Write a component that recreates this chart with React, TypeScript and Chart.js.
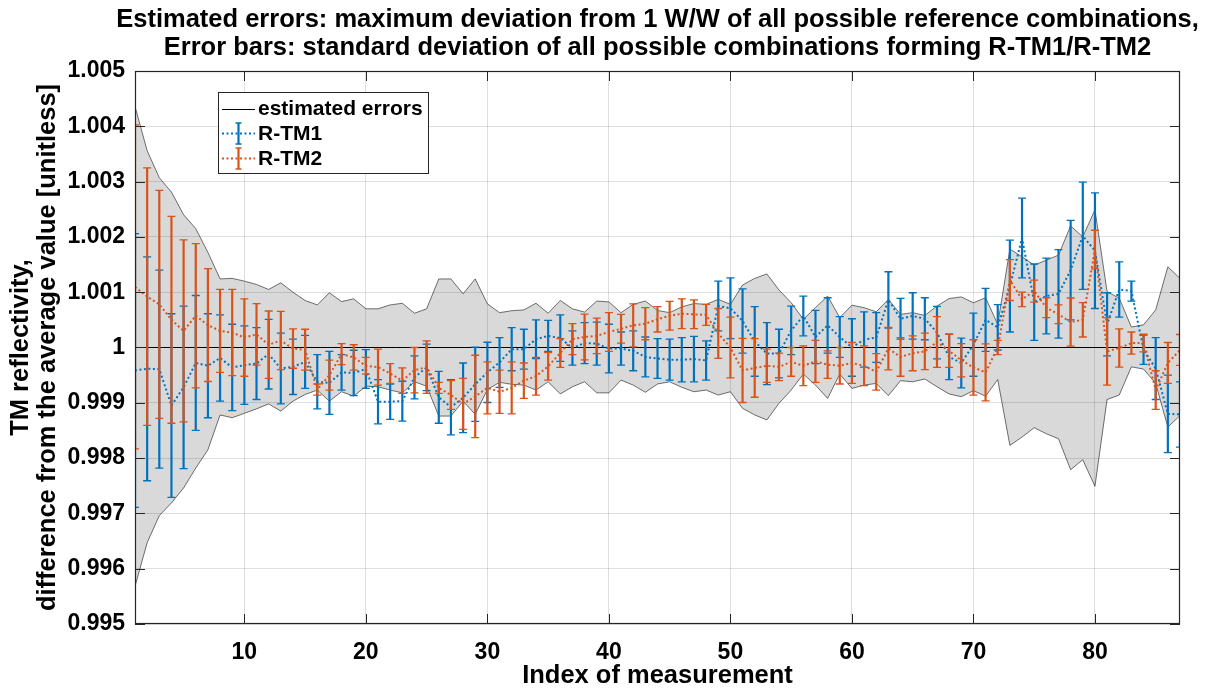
import { useEffect, useRef } from "react";
import { Chart, registerables } from "chart.js";

Chart.register(...registerables);

const FONT = "'Liberation Sans', Arial, Helvetica, sans-serif";

// Measurement indices 1..87
const measurementIndex: number[] = Array.from({ length: 87 }, (_, i) => i + 1);

// All deviations below are given in units of 1e-3 (relative to 1 W/W)
// R-TM1: mean deviation and standard deviation
const tm1Dev = [
  -0.415, -0.385, -0.39, -1.05, -0.72, -0.28, -0.33, -0.19, -0.36, -0.32,
  -0.29, -0.12, -0.38, -0.35, -0.26, -0.62, -0.64, -0.45, -0.46, -0.39,
  -0.98, -0.98, -0.97, -0.54, -0.36, -0.9, -1.08, -0.91, -0.665, -0.45,
  -0.27, -0.03, -0.03, 0.15, 0.21, 0.17, -0.01, 0.08, 0.07, -0.02,
  -0.02, -0.06, -0.17, -0.2, -0.22, -0.22, -0.21, -0.235, 0.75, 0.71,
  0.48, 0.11, -0.11, -0.11, 0.31, 0.57, 0.19, 0.4, 0.19, 0.0,
  0.145, 0.18, 0.86, 0.52, 0.57, 0.52, 0.27, -0.17, -0.28, 0.05,
  0.5, 0.365, 1.11, 1.98, 0.82, 0.93, 0.97, 1.4, 2.02, 1.75,
  0.42, 1.05, 1.02, -0.04, -0.38, -1.2, -1.21,
];
const tm1Std = [
  2.475, 2.025, 1.79, 1.66, 1.47, 1.22, 0.94, 0.78, 0.78, 0.71,
  0.65, 0.63, 0.64, 0.5, 0.48, 0.49, 0.57, 0.32, 0.41, 0.35,
  0.4, 0.32, 0.36, 0.39, 0.42, 0.47, 0.5, 0.63, 0.67, 0.545,
  0.45, 0.39, 0.36, 0.35, 0.28, 0.42, 0.31, 0.37, 0.39, 0.44,
  0.3, 0.36, 0.36, 0.36, 0.37, 0.4, 0.41, 0.355, 0.45, 0.55,
  0.58, 0.63, 0.56, 0.44, 0.44, 0.36, 0.48, 0.5, 0.37, 0.52,
  0.5, 0.45, 0.51, 0.37, 0.42, 0.38, 0.475, 0.41, 0.45, 0.57,
  0.57, 0.41, 0.83, 0.72, 0.69, 0.685, 0.8, 0.9, 0.97, 1.045,
  0.57, 0.5, 0.18, 0.265, 0.56, 0.7, 0.59,
];

// R-TM2: mean deviation and standard deviation
const tm2Dev = [
  1.096, 0.92, 0.78, 0.5, 0.3, 0.575, 0.405, 0.3, 0.27, 0.18,
  0.236, 0.05, 0.127, -0.02, -0.04, -0.76, -0.5, -0.12, -0.18, -0.33,
  -0.355, -0.47, -0.6, -0.41, -0.355, -0.73, -0.86, -1.02, -0.885, -0.73,
  -0.8, -0.73, -0.6, -0.52, -0.34, -0.1, 0.15, 0.19, 0.21, 0.28,
  0.34, 0.4, 0.43, 0.51, 0.575, 0.61, 0.6, 0.59, 0.255, 0.0,
  -0.415, -0.37, -0.33, -0.35, -0.26, -0.33, -0.25, -0.31, -0.33, -0.28,
  -0.33, -0.44, -0.02, -0.17, -0.105, -0.07, 0.1, -0.06, -0.23, -0.36,
  -0.45, 0.0, 1.22, 0.87, 1.02, 0.72, 0.6, 0.46, 0.5, 1.77,
  -0.07, -0.01, 0.08, 0.08, -0.77, -0.28, -0.045,
];
const tm2Std = [
  2.93, 2.33, 2.06, 1.87, 1.645, 1.305, 1.02, 0.75, 0.78, 0.7,
  0.556, 0.61, 0.526, 0.355, 0.37, 0.1, 0.27, 0.19, 0.23, 0.15,
  0.325, 0.18, 0.23, 0.41, 0.475, 0.1, 0.26, 0.46, 0.745, 0.47,
  0.39, 0.47, 0.32, 0.34, 0.25, 0.26, 0.28, 0.415, 0.32, 0.35,
  0.26, 0.39, 0.29, 0.23, 0.26, 0.27, 0.26, 0.19, 0.45, 0.55,
  0.58, 0.53, 0.3, 0.25, 0.26, 0.36, 0.38, 0.25, 0.33, 0.37,
  0.36, 0.33, 0.385, 0.35, 0.315, 0.33, 0.46, 0.3, 0.3, 0.5,
  0.515, 0.13, 0.37, 0.13, 0.2, 0.18, 0.17, 0.435, 0.31, 0.35,
  0.61, 0.345, 0.2, 0.16, 0.35, 0.37, 0.28,
];

// Estimated errors: maximum deviation above / below 1
const errAbove = [
  4.36, 3.56, 3.07, 2.81, 2.4, 2.15, 1.72, 1.24, 1.25, 1.2,
  1.14, 1.05, 1.17, 1.0, 0.85, 0.77, 0.99, 0.83, 0.88, 0.7,
  0.7, 0.77, 0.8, 0.62, 0.7, 1.24, 1.24, 0.97, 1.24, 0.79,
  0.63, 0.665, 0.68, 0.8, 0.62, 0.85, 0.7, 0.64, 0.84, 0.825,
  0.63, 0.78, 0.84, 0.67, 0.63, 0.735, 0.795, 0.78, 0.87, 0.78,
  1.13, 1.25, 1.33, 1.04, 0.81, 0.51, 0.72, 0.93, 0.54, 0.765,
  0.72, 0.645, 0.87, 0.6, 0.63, 0.58, 0.75, 0.885, 0.915, 0.81,
  0.9, 0.42, 1.78, 1.64, 1.49, 1.58, 1.67, 2.2, 2.0, 2.49,
  1.01, 0.89, 0.37, 0.41, 0.68, 1.46, 1.25,
];
const errBelow = [
  4.32, 3.53, 3.04, 2.81, 2.54, 2.18, 1.85, 1.22, 1.27, 1.19,
  1.11, 1.02, 1.15, 0.97, 0.85, 0.77, 0.97, 0.8, 0.88, 0.7,
  0.71, 0.77, 0.82, 0.62, 0.7, 1.24, 1.24, 0.97, 1.21, 0.76,
  0.63, 0.665, 0.68, 0.77, 0.62, 0.84, 0.71, 0.62, 0.82, 0.82,
  0.59, 0.68, 0.81, 0.66, 0.62, 0.72, 0.8, 0.77, 0.86, 0.8,
  1.1, 1.22, 1.31, 1.01, 0.77, 0.48, 0.68, 0.92, 0.48, 0.74,
  0.68, 0.65, 0.87, 0.6, 0.62, 0.57, 0.71, 0.84, 0.89, 0.78,
  0.88, 0.58, 1.77, 1.62, 1.45, 1.56, 1.65, 2.21, 2.03, 2.51,
  0.94, 0.86, 0.35, 0.39, 0.65, 1.44, 1.23,
];

const xTicks = [10, 20, 30, 40, 50, 60, 70, 80];
const yTicks = [0.995, 0.996, 0.997, 0.998, 0.999, 1, 1.001, 1.002, 1.003, 1.004, 1.005];
const referenceLevel = 1;

const seriesNames = ["estimated errors", "R-TM1", "R-TM2"];
const titleLines = [
  "Estimated errors: maximum deviation from 1 W/W of all possible reference combinations,",
  "Error bars: standard deviation of all possible combinations forming R-TM1/R-TM2",
];
const xTitle = "Index of measurement";
const yTitle = ["TM reflectivity,", "difference from the average value [unitless]"];

const BLUE = "#0072BD";
const ORANGE = "#D95319";
const AXIS = "#262626";

const SCALE = 1e-3;
const points = (devs: number[], sign = 1) =>
  measurementIndex.map((x, i) => ({ x, y: referenceLevel + sign * devs[i] * SCALE }));

// vertical error bars with caps, drawn just before the dotted line of a series
const errorBarPlugin = {
  id: "errorBars",
  beforeDatasetDraw(chart: any, args: any) {
    const ds = chart.data.datasets[args.index];
    if (!ds.errStd) return;
    const { ctx, chartArea, scales } = chart;
    const xs = scales.x;
    const ys = scales.y;
    ctx.save();
    ctx.beginPath();
    ctx.rect(chartArea.left, chartArea.top, chartArea.width, chartArea.height);
    ctx.clip();
    ctx.strokeStyle = ds.borderColor;
    ds.data.forEach((p: any, i: number) => {
      const s = ds.errStd[i] * SCALE;
      const px = xs.getPixelForValue(p.x);
      const yt = ys.getPixelForValue(p.y + s);
      const yb = ys.getPixelForValue(p.y - s);
      ctx.lineWidth = 2.2;
      ctx.beginPath();
      ctx.moveTo(px, yt);
      ctx.lineTo(px, yb);
      ctx.stroke();
      ctx.lineWidth = 1.3;
      ctx.beginPath();
      ctx.moveTo(px - 4, yt);
      ctx.lineTo(px + 4, yt);
      ctx.moveTo(px - 4, yb);
      ctx.lineTo(px + 4, yb);
      ctx.stroke();
    });
    ctx.restore();
  },
  afterDatasetDraw(chart: any, args: any) {
    // reference line at 1, over the error band
    const ds = chart.data.datasets[args.index];
    if (!ds.isBandLower) return;
    const { ctx, chartArea, scales } = chart;
    const py = Math.round(scales.y.getPixelForValue(referenceLevel)) + 0.5;
    ctx.save();
    ctx.strokeStyle = "#000";
    ctx.lineWidth = 1;
    ctx.beginPath();
    ctx.moveTo(chartArea.left, py);
    ctx.lineTo(chartArea.right, py);
    ctx.stroke();
    ctx.restore();
  },
};

// axes box with inward tick marks
const framePlugin = {
  id: "frame",
  afterDatasetsDraw(chart: any) {
    const { ctx, chartArea, scales } = chart;
    const { left, right, top, bottom } = chartArea;
    const tl = 10;
    ctx.save();
    ctx.strokeStyle = AXIS;
    ctx.lineWidth = 1;
    ctx.beginPath();
    xTicks.forEach((v) => {
      const px = Math.round(scales.x.getPixelForValue(v)) + 0.5;
      ctx.moveTo(px, bottom);
      ctx.lineTo(px, bottom - tl);
      ctx.moveTo(px, top);
      ctx.lineTo(px, top + tl);
    });
    yTicks.forEach((v) => {
      const py = Math.round(scales.y.getPixelForValue(v)) + 0.5;
      ctx.moveTo(left, py);
      ctx.lineTo(left + tl, py);
      ctx.moveTo(right, py);
      ctx.lineTo(right - tl, py);
    });
    ctx.stroke();
    ctx.lineWidth = 1.2;
    ctx.strokeRect(Math.round(left) + 0.5, Math.round(top) + 0.5, Math.round(right - left) - 1, Math.round(bottom - top) - 1);
    ctx.restore();
  },
};

// two-line title centred over the axes, and the boxed legend
const annotationPlugin = {
  id: "titleAndLegend",
  afterDraw(chart: any) {
    const { ctx, chartArea } = chart;
    ctx.save();
    ctx.fillStyle = "#000";
    ctx.textAlign = "center";
    ctx.textBaseline = "middle";
    ctx.font = `bold 25.5px ${FONT}`;
    const cx = (chartArea.left + chartArea.right) / 2;
    titleLines.forEach((line, i) => ctx.fillText(line, cx, 20 + i * 28));

    const x0 = chartArea.left + 83;
    const y0 = chartArea.top + 21;
    const w = 210;
    const h = 81;
    ctx.fillStyle = "#fff";
    ctx.fillRect(x0, y0, w, h);
    ctx.strokeStyle = AXIS;
    ctx.lineWidth = 1;
    ctx.strokeRect(x0 + 0.5, y0 + 0.5, w, h);

    const colors = ["#000", BLUE, ORANGE];
    ctx.textAlign = "left";
    ctx.font = `bold 21px ${FONT}`;
    seriesNames.forEach((name, i) => {
      const cy = y0 + 16.5 + i * 25;
      const lx0 = x0 + 4;
      const lx1 = x0 + 37;
      ctx.strokeStyle = colors[i];
      if (i === 0) {
        ctx.lineWidth = 1;
        ctx.setLineDash([]);
        ctx.beginPath();
        ctx.moveTo(lx0, Math.round(cy) + 0.5);
        ctx.lineTo(lx1, Math.round(cy) + 0.5);
        ctx.stroke();
      } else {
        ctx.lineWidth = 2;
        ctx.setLineDash([2, 2.5]);
        ctx.beginPath();
        ctx.moveTo(lx0, cy);
        ctx.lineTo(lx1, cy);
        ctx.stroke();
        ctx.setLineDash([]);
        const mx = (lx0 + lx1) / 2;
        ctx.lineWidth = 2.2;
        ctx.beginPath();
        ctx.moveTo(mx, cy - 10.5);
        ctx.lineTo(mx, cy + 10.5);
        ctx.stroke();
        ctx.lineWidth = 1.3;
        ctx.beginPath();
        ctx.moveTo(mx - 3, cy - 10.5);
        ctx.lineTo(mx + 3, cy - 10.5);
        ctx.moveTo(mx - 3, cy + 10.5);
        ctx.lineTo(mx + 3, cy + 10.5);
        ctx.stroke();
      }
      ctx.fillStyle = "#000";
      ctx.fillText(name, lx1 + 3, cy + 1);
    });
    ctx.restore();
  },
};

export default function App() {
  const canvasRef = useRef<HTMLCanvasElement>(null);

  useEffect(() => {
    const canvas = canvasRef.current;
    if (!canvas) return;

    const gridColor = "rgba(38,38,38,0.15)";

    const chart = new Chart(canvas, {
      type: "line",
      data: {
        datasets: [
          {
            label: seriesNames[2],
            data: points(tm2Dev),
            errStd: tm2Std,
            borderColor: ORANGE,
            borderWidth: 2,
            borderDash: [2, 2.5],
            pointRadius: 0,
            fill: false,
            tension: 0,
            order: 1,
          } as any,
          {
            label: seriesNames[1],
            data: points(tm1Dev),
            errStd: tm1Std,
            borderColor: BLUE,
            borderWidth: 2,
            borderDash: [2, 2.5],
            pointRadius: 0,
            fill: false,
            tension: 0,
            order: 2,
          } as any,
          {
            label: seriesNames[0],
            data: points(errAbove),
            borderColor: "rgba(0,0,0,0.55)",
            borderWidth: 1,
            backgroundColor: "rgba(0,0,0,0.15)",
            pointRadius: 0,
            fill: "+1",
            tension: 0,
            order: 5,
          } as any,
          {
            label: seriesNames[0] + " (lower)",
            data: points(errBelow, -1),
            isBandLower: true,
            borderColor: "rgba(0,0,0,0.55)",
            borderWidth: 1,
            pointRadius: 0,
            fill: false,
            tension: 0,
            order: 4,
          } as any,
        ],
      },
      options: {
        animation: false,
        responsive: true,
        maintainAspectRatio: false,
        devicePixelRatio: 1,
        layout: { padding: { top: 71, right: 26, left: 0, bottom: 0 } },
        plugins: {
          legend: { display: false },
          tooltip: { enabled: false },
          title: { display: false },
        },
        scales: {
          x: {
            type: "linear",
            min: measurementIndex[0],
            max: measurementIndex[measurementIndex.length - 1],
            afterBuildTicks: (axis: any) => {
              axis.ticks = xTicks.map((v) => ({ value: v }));
            },
            afterFit: (axis: any) => {
              axis.height = 64;
            },
            grid: { color: gridColor, drawTicks: false, lineWidth: 1 },
            border: { display: false },
            ticks: {
              padding: 15,
              color: "#000",
              maxRotation: 0,
              font: { family: FONT, size: 23, weight: "bold" },
              callback: (v: any) => String(v),
            },
            title: {
              display: true,
              text: xTitle,
              color: "#000",
              font: { family: FONT, size: 25.5, weight: "bold", lineHeight: 0.94 },
              padding: { top: 0, bottom: 0 },
            },
          },
          y: {
            type: "linear",
            min: yTicks[0],
            max: yTicks[yTicks.length - 1],
            afterBuildTicks: (axis: any) => {
              axis.ticks = yTicks.map((v) => ({ value: v }));
            },
            afterFit: (axis: any) => {
              axis.width = 135;
            },
            grid: { color: gridColor, drawTicks: false, lineWidth: 1 },
            border: { display: false },
            ticks: {
              padding: 10,
              color: "#000",
              font: { family: FONT, size: 23, weight: "bold" },
              callback: (v: any) => String(parseFloat(Number(v).toFixed(3))),
            },
            title: {
              display: true,
              text: yTitle,
              color: "#000",
              font: { family: FONT, size: 25.5, weight: "bold", lineHeight: 1.06 },
              padding: { top: 7.5, bottom: 0 },
            },
          },
        },
      },
      plugins: [errorBarPlugin, framePlugin, annotationPlugin],
    } as any);

    return () => chart.destroy();
  }, []);

  return (
    <div style={{ position: "absolute", left: 0, top: 0, width: 1206, height: 688, background: "#fff" }}>
      <canvas ref={canvasRef} />
    </div>
  );
}
